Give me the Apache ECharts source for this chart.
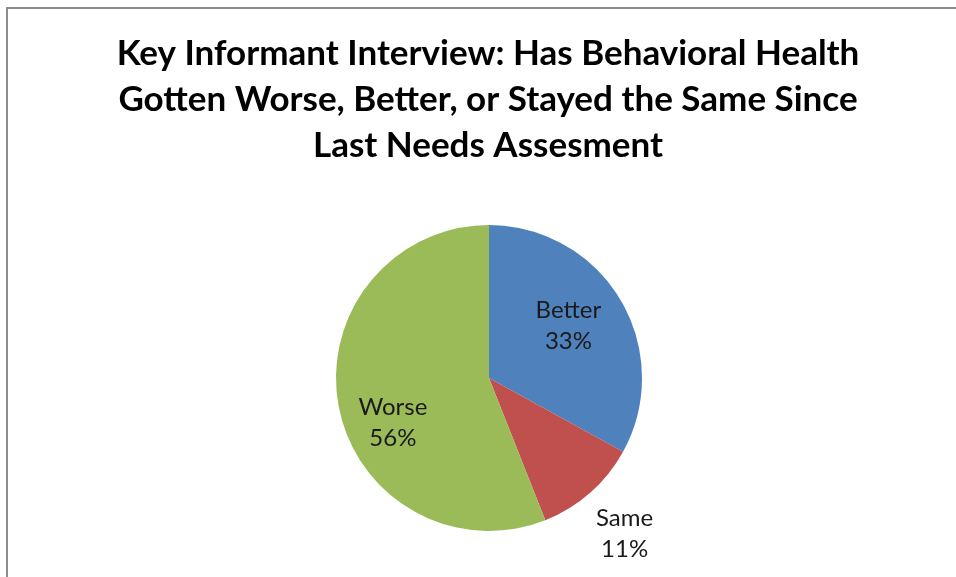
<!DOCTYPE html>
<html>
<head>
<meta charset="utf-8">
<script src="https://cdn.jsdelivr.net/npm/echarts@6/dist/echarts.min.js"></script>
<style>
html,body{margin:0;padding:0;background:#fff;}
#chart{width:956px;height:577px;}
</style>
</head>
<body>
<div id="chart"></div>
<script>
const titleLines = [
  "Key Informant Interview: Has Behavioral Health",
  "Gotten Worse, Better, or Stayed the Same Since",
  "Last Needs Assesment"
];
const categories = ["Better", "Same", "Worse"];
const values = [33, 11, 56];
const colors = ["#4F81BD", "#C0504D", "#9BBB59"];

const chart = echarts.init(document.getElementById('chart'), null, {renderer: 'canvas'});
const labelShift = [[11, -12], [83, 96], [-18, 30]];
const option = {
  backgroundColor: '#ffffff',
  animation: false,
  title: {
    text: titleLines.join('\n'),
    left: 483,
    textAlign: 'center',
    top: 26,
    textStyle: {
      fontFamily: 'Lato',
      fontWeight: 'bold',
      fontSize: 35,
      lineHeight: 46,
      color: '#000000'
    }
  },
  graphic: [{
    type: 'rect',
    shape: {x: 7, y: 8, width: 1000, height: 1000},
    style: {fill: 'none', stroke: '#8c8c8c', lineWidth: 2},
    silent: true
  }],
  series: [{
    type: 'pie',
    center: [489, 378],
    radius: 153,
    startAngle: 90,
    clockwise: true,
    percentPrecision: 0,
    data: categories.map((c, i) => ({name: c, value: values[i], itemStyle: {color: colors[i]}})),
    label: {
      show: true,
      position: 'inside',
      formatter: '{b}\n{d}%',
      fontFamily: 'Lato',
      fontSize: 24,
      lineHeight: 31,
      color: '#1a1a1a'
    },
    labelLine: {show: false},
    labelLayout: function (p) {
      const s = labelShift[p.dataIndex];
      return {dx: s[0], dy: s[1]};
    },
    emphasis: {disabled: true}
  }]
};
chart.setOption(option);
</script>
</body>
</html>
